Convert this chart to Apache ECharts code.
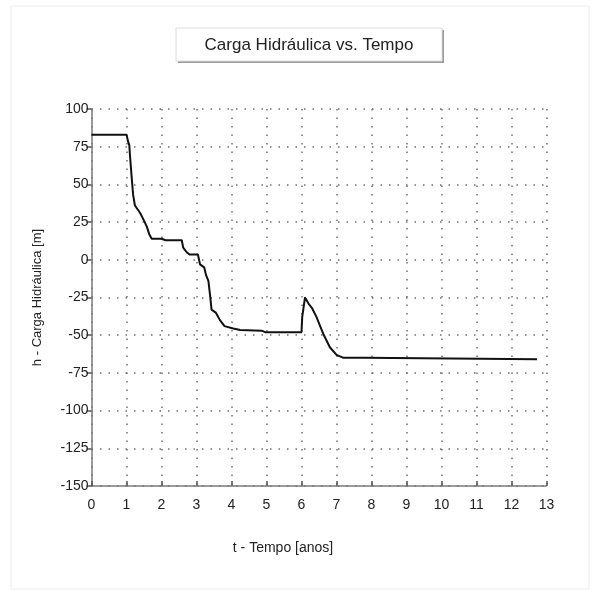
<!DOCTYPE html>
<html>
<head>
<meta charset="utf-8">
<script src="https://cdn.jsdelivr.net/npm/echarts@6/dist/echarts.min.js"></script>
<style>
  html, body { margin: 0; padding: 0; background: #fff; }
  #chart { width: 594px; height: 590px; }
</style>
</head>
<body>
<div id="chart"></div>
<script>
// Hydraulic head over time (years)
const tempo = [0, 1.0, 1.05, 1.08, 1.1, 1.15, 1.19, 1.24, 1.3, 1.39, 1.5, 1.58, 1.65, 1.72, 2.0, 2.12, 2.58, 2.62, 2.72, 2.8, 3.04, 3.1, 3.22, 3.27, 3.34, 3.39, 3.43, 3.55, 3.67, 3.8, 4.05, 4.25, 4.86, 4.96, 6.0, 6.02, 6.1, 6.2, 6.3, 6.43, 6.55, 6.62, 6.81, 7.0, 7.2, 7.8, 7.85, 12.73];
const carga = [83, 83, 78, 76, 69, 54, 43, 36, 34, 31, 26, 22, 17, 14, 14, 13, 13, 8, 5, 3.5, 3.5, -3, -5, -10, -14, -24, -33, -35, -40, -44, -45.5, -46.5, -47, -48, -48, -38, -25, -29, -32, -38, -45, -49, -58, -63, -65, -65, -66, -66];
const xTicks = [0, 13, 1];      // min, max, interval
const yTicks = [-150, 100, 25]; // min, max, interval

const titleText = 'Carga Hidráulica vs. Tempo';
const xName = 't - Tempo [anos]';
const yName = 'h - Carga Hidráulica [m]';

const chart = echarts.init(document.getElementById('chart'), null, { renderer: 'canvas' });
const font = '"Liberation Sans", Arial, sans-serif';
const gridDots = { color: '#6f6f6f', width: 1.5, type: [1.5, 7] };

chart.setOption({
  animation: false,
  backgroundColor: '#fff',
  grid: { left: 91.5, top: 109, right: 47.5, bottom: 104, containLabel: false },
  xAxis: {
    type: 'value',
    min: xTicks[0], max: xTicks[1], interval: xTicks[2],
    axisLine: { onZero: false, lineStyle: { color: '#7a7a7a', width: 1.5 } },
    axisTick: { inside: true, length: 5, lineStyle: { color: '#555', width: 1.5 } },
    axisLabel: { margin: 12, color: '#222', fontFamily: font, fontSize: 14 },
    splitLine: { show: true, lineStyle: gridDots }
  },
  yAxis: {
    type: 'value',
    min: yTicks[0], max: yTicks[1], interval: yTicks[2],
    name: yName,
    nameLocation: 'middle',
    nameGap: 48,
    nameTextStyle: { color: '#222', fontFamily: font, fontSize: 13 },
    axisLine: { onZero: false, lineStyle: { color: '#7a7a7a', width: 1.5 } },
    axisTick: { inside: false, length: 5, lineStyle: { color: '#555', width: 1.5 } },
    axisLabel: { margin: 3, color: '#222', fontFamily: font, fontSize: 14 },
    splitLine: { show: true, lineStyle: gridDots }
  },
  series: [{
    type: 'line',
    data: tempo.map((t, i) => [t, carga[i]]),
    showSymbol: false,
    smooth: false,
    lineStyle: { color: '#111', width: 2 }
  }],
  graphic: [
    { type: 'rect', shape: { x: 11, y: 6, width: 578, height: 583 },
      style: { fill: 'none', stroke: '#ececec', lineWidth: 1 }, silent: true, z: -10 },
    { type: 'rect', shape: { x: 178, y: 30, width: 266, height: 33 },
      style: { fill: '#9a9a9a' }, silent: true },
    { type: 'rect', shape: { x: 176, y: 28, width: 266, height: 33 },
      style: { fill: '#fff', stroke: '#dcdcdc', lineWidth: 1 }, silent: true },
    { type: 'text', x: 309, y: 45,
      style: { text: titleText, fill: '#222', font: '17px ' + font, textAlign: 'center', textVerticalAlign: 'middle' },
      silent: true },
    { type: 'text', x: 283, y: 548,
      style: { text: xName, fill: '#222', font: '14px ' + font, textAlign: 'center', textVerticalAlign: 'middle' },
      silent: true }
  ]
});
</script>
</body>
</html>
